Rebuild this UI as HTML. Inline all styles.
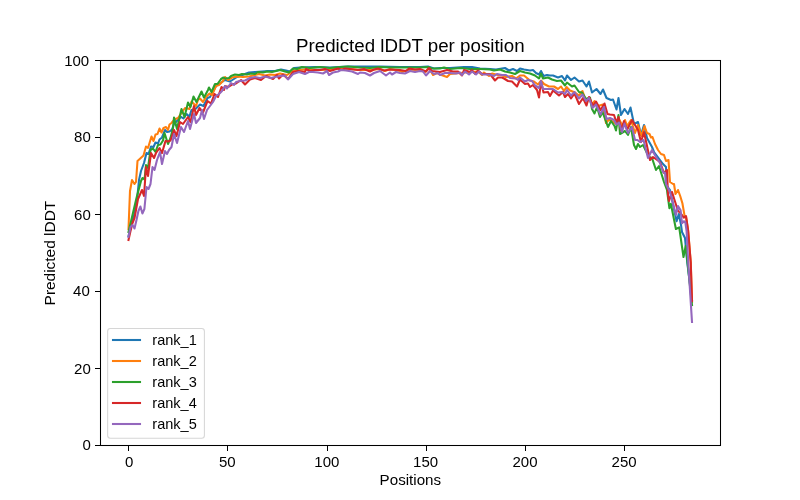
<!DOCTYPE html>
<html><head><meta charset="utf-8"><style>
html,body{margin:0;padding:0;background:#fff;width:800px;height:500px;overflow:hidden}
svg{display:block;will-change:transform}
text{font-family:"Liberation Sans",sans-serif;fill:#000}
</style></head><body>
<svg width="800" height="500" viewBox="0 0 800 500">
<rect x="0" y="0" width="800" height="500" fill="#fff"/>
<defs><clipPath id="ax"><rect x="100" y="60" width="621" height="386"/></clipPath></defs>
<g clip-path="url(#ax)">
<polyline points="128.50,236.00 134.50,213.50 137.00,200.00 139.00,180.00 141.00,171.00 144.00,163.00 146.50,153.00 148.50,154.00 151.00,146.50 153.50,147.00 155.50,142.50 158.00,143.50 159.50,139.50 162.00,137.50 165.00,130.00 167.00,132.00 169.50,131.50 172.00,129.50 174.00,124.00 181.00,116.80 183.50,118.50 186.60,114.00 189.40,116.80 191.50,110.00 196.00,108.50 200.00,104.50 203.50,106.00 207.50,98.00 210.00,97.00 216.00,86.00 225.00,80.00 230.00,81.50 237.00,77.00 249.00,72.50 255.00,72.00 262.00,71.50 268.00,71.00 275.00,71.00 281.00,69.50 286.00,70.50 290.00,71.50 294.00,68.00 300.00,67.50 315.00,67.00 330.00,67.50 348.00,66.50 360.00,66.50 380.00,66.50 400.00,67.00 420.00,67.00 428.00,66.50 434.00,68.50 440.00,68.00 450.00,68.00 464.00,67.00 472.00,67.00 480.00,68.50 490.00,69.00 496.00,69.50 505.00,68.00 509.00,70.50 513.00,69.00 517.00,71.00 520.00,68.50 524.00,69.50 530.00,70.50 533.00,70.00 536.00,73.00 539.00,74.50 541.00,71.00 543.50,76.00 547.00,75.00 550.00,75.50 553.00,75.50 558.00,77.50 562.00,76.00 565.00,80.50 567.00,75.50 571.00,80.00 574.50,77.50 579.00,81.50 582.50,80.50 586.50,86.50 589.00,81.50 592.00,92.50 596.50,89.00 600.50,94.00 603.00,89.50 606.50,98.00 611.00,100.00 613.00,99.50 616.50,109.50 618.50,98.00 621.00,115.00 624.50,109.00 628.00,114.00 630.50,107.50 634.00,124.00 638.00,122.00 641.00,135.00 644.00,125.00 647.00,138.00 652.00,147.00 654.00,152.00 657.00,156.00 660.00,160.00 663.00,164.00 666.00,167.00 667.00,186.00 670.00,190.00 676.60,221.20 678.80,214.00 681.00,224.80 682.00,232.00 685.00,238.00 687.20,262.00 692.00,300.00" fill="none" stroke="#1f77b4" stroke-width="2.08" stroke-linejoin="round" stroke-linecap="square"/>
<polyline points="128.50,229.00 130.00,191.00 132.00,180.00 134.50,184.00 136.00,182.00 137.50,161.00 143.50,155.50 146.00,146.50 148.00,148.00 151.50,136.50 153.50,141.00 155.50,134.50 157.50,134.00 159.50,128.50 161.50,132.50 163.50,128.00 166.00,127.00 168.00,130.00 169.50,124.50 171.50,123.00 174.00,120.00 175.50,119.00 178.00,118.00 181.50,113.00 185.00,108.00 189.50,109.00 191.50,101.50 196.00,106.00 198.00,100.00 200.00,98.50 203.00,102.00 206.00,97.00 209.50,93.50 212.00,95.00 216.00,86.00 219.00,85.00 223.00,81.00 225.00,77.00 228.00,80.00 232.00,77.50 237.00,76.50 243.00,77.00 249.00,76.50 253.00,75.50 259.00,74.00 265.00,75.50 270.00,74.50 275.00,75.00 280.00,73.50 287.00,75.00 293.00,71.00 299.00,70.00 305.00,69.50 310.00,69.50 320.00,70.00 330.00,69.50 340.00,68.50 350.00,69.00 360.00,70.00 370.00,70.00 380.00,69.00 385.00,71.00 390.00,69.00 400.00,71.00 402.00,72.00 410.00,69.50 420.00,70.00 425.00,72.00 429.00,68.00 433.00,75.00 437.00,73.00 440.00,74.50 447.00,77.00 450.00,74.00 460.00,73.00 470.00,72.00 478.00,71.50 482.00,75.00 484.00,72.50 489.00,76.00 492.00,73.50 498.00,75.00 502.00,75.00 506.00,77.00 512.00,76.00 516.00,78.50 520.00,75.50 524.00,75.50 530.00,80.50 534.00,81.50 538.00,84.50 541.00,80.50 544.00,84.00 549.00,86.50 554.00,86.50 558.00,89.00 561.00,86.50 564.00,91.00 566.50,87.00 570.00,90.50 575.00,92.50 579.00,95.50 582.50,91.00 586.00,101.00 590.00,99.00 592.00,104.50 594.50,101.00 598.00,106.00 603.00,104.50 606.00,123.00 609.00,119.50 612.00,121.00 616.00,124.00 619.00,119.00 623.00,127.00 625.00,120.00 627.00,126.00 631.00,120.00 635.00,133.00 638.00,125.00 641.50,136.00 644.50,126.00 647.00,133.00 649.50,134.00 651.00,137.50 652.50,137.00 655.00,144.00 658.00,150.00 661.00,154.00 664.00,155.00 666.00,161.00 668.50,160.00 670.00,182.00 673.00,184.00 674.00,184.00 675.50,194.00 678.00,190.00 680.20,196.00 682.40,203.20 684.50,215.40 686.00,217.00 688.20,231.00 690.80,263.00 692.00,302.00" fill="none" stroke="#ff7f0e" stroke-width="2.08" stroke-linejoin="round" stroke-linecap="square"/>
<polyline points="128.50,232.00 132.50,215.00 136.50,198.00 141.00,181.00 142.50,178.00 144.50,179.50 146.00,165.00 148.00,168.00 150.50,150.00 153.00,148.50 155.50,152.00 158.00,145.00 160.50,144.50 163.00,140.50 164.50,133.00 168.00,144.00 170.50,138.00 173.00,128.00 174.00,117.50 177.00,129.00 181.50,109.00 184.50,117.00 188.00,102.50 190.50,107.00 193.50,96.50 196.50,102.00 201.50,91.50 204.00,97.50 208.00,90.00 209.00,87.50 211.50,92.00 215.00,84.00 217.50,84.00 221.00,79.00 223.50,77.50 225.00,78.50 229.00,78.00 231.00,76.00 235.00,74.50 239.00,75.00 242.00,74.00 247.00,74.50 251.00,73.50 255.00,74.00 258.00,72.00 263.00,72.50 267.00,71.50 272.00,72.00 280.00,70.00 285.00,71.50 289.00,72.50 293.00,68.50 297.00,69.00 302.00,67.00 310.00,68.00 315.00,67.50 320.00,67.00 330.00,68.00 340.00,67.00 348.00,66.50 360.00,67.50 370.00,68.00 380.00,67.00 390.00,67.50 400.00,67.50 410.00,67.50 420.00,67.50 428.00,67.00 432.00,68.50 440.00,68.50 444.00,67.50 450.00,69.00 460.00,68.00 470.00,69.00 480.00,69.00 490.00,69.50 494.00,70.50 500.00,69.50 505.00,71.50 510.00,72.50 515.00,74.00 520.00,71.00 525.00,72.50 530.00,73.50 535.00,75.50 539.00,78.50 541.00,73.50 543.00,78.50 548.00,77.50 552.00,79.50 557.00,81.00 561.00,80.50 565.00,85.50 567.00,82.50 572.00,86.50 574.50,85.50 579.00,92.00 582.00,92.50 586.00,99.00 590.00,97.50 592.00,109.00 594.50,113.50 597.00,107.00 600.00,117.00 602.50,112.00 608.00,127.00 611.00,121.00 614.50,126.00 616.00,130.50 618.50,115.00 620.00,134.00 625.00,131.00 628.00,135.00 631.00,127.00 634.00,145.00 636.00,149.00 638.00,144.00 640.00,147.00 643.00,145.00 649.00,157.00 652.00,158.00 656.00,170.00 659.00,166.00 664.00,182.00 667.00,190.00 669.40,208.20 670.90,203.90 675.90,229.00 679.20,227.40 683.50,257.00 685.70,246.00 687.50,262.00 692.00,305.00" fill="none" stroke="#2ca02c" stroke-width="2.08" stroke-linejoin="round" stroke-linecap="square"/>
<polyline points="128.50,240.00 130.50,231.00 132.50,223.00 134.50,218.00 138.00,199.00 142.00,190.00 144.00,196.00 146.00,167.00 148.00,176.00 151.00,153.00 154.00,158.00 156.00,153.00 159.50,148.00 162.00,153.00 165.50,141.00 168.00,141.50 170.50,140.50 174.00,130.00 176.50,136.00 180.00,122.00 183.00,124.00 188.00,117.00 190.50,122.00 194.00,106.00 196.00,115.00 199.50,108.00 203.00,112.50 207.50,101.00 211.00,103.50 214.50,94.00 218.00,97.00 221.50,87.00 224.00,90.00 225.00,86.00 228.00,87.00 232.00,84.50 236.00,83.50 241.00,80.00 245.00,84.50 250.00,79.50 255.00,78.00 261.00,80.00 266.00,76.00 273.00,79.00 277.00,75.00 279.00,78.50 283.00,74.50 288.00,79.00 293.00,72.00 298.00,71.00 305.00,72.00 306.00,69.00 310.00,71.00 315.00,70.00 320.00,70.00 325.00,69.00 330.00,71.00 338.00,68.50 342.00,70.00 345.00,68.50 350.00,69.00 358.00,70.00 364.00,69.00 370.00,71.50 374.00,69.50 378.00,68.50 384.00,70.50 390.00,69.50 400.00,70.00 406.00,71.00 409.00,68.50 415.00,69.50 420.00,69.00 426.00,71.50 429.00,68.00 432.00,71.00 436.00,71.50 440.00,72.00 447.00,70.00 453.00,71.50 458.00,71.50 462.00,75.50 464.00,70.00 470.00,72.00 472.00,70.00 475.00,74.00 478.00,70.50 482.00,74.00 490.00,74.00 495.00,80.50 498.00,77.50 502.00,77.50 504.00,78.50 508.00,81.00 512.00,81.50 517.00,86.50 520.00,79.50 525.00,84.00 528.00,83.50 530.00,87.00 533.00,85.00 537.00,90.00 539.00,97.50 541.00,81.50 543.50,92.50 548.00,92.00 550.00,96.00 553.00,90.50 559.00,95.50 563.00,92.00 565.00,97.00 568.00,94.00 571.00,98.50 574.50,93.50 579.00,104.00 583.00,98.00 586.50,105.50 589.00,97.00 593.00,106.00 596.00,101.50 600.50,110.00 604.50,103.50 607.50,114.00 610.00,114.50 614.00,115.00 616.50,122.50 618.50,117.00 621.00,130.00 624.00,121.00 627.00,130.00 632.00,120.00 638.00,130.00 641.00,142.00 644.00,132.00 650.00,160.00 653.00,157.00 660.00,162.00 664.00,173.00 667.00,170.00 668.00,195.00 669.00,201.00 672.00,192.00 678.00,211.00 680.50,213.00 683.80,217.60 686.00,216.00 688.10,230.50 690.70,262.00 692.00,301.00" fill="none" stroke="#d62728" stroke-width="2.08" stroke-linejoin="round" stroke-linecap="square"/>
<polyline points="128.50,237.00 130.50,227.00 132.50,225.00 134.50,228.50 136.50,220.00 138.40,211.00 140.40,206.50 142.40,213.50 144.40,209.00 146.50,187.00 148.50,189.00 150.50,184.00 152.50,167.00 154.50,170.00 157.00,160.00 160.00,152.00 162.00,164.00 165.00,151.00 167.00,154.00 169.00,150.00 171.50,147.00 174.00,134.00 177.00,143.00 181.00,127.00 184.00,132.00 188.00,121.00 190.00,129.00 194.00,114.00 196.00,123.00 200.00,118.00 202.00,110.00 204.00,119.00 207.00,110.00 210.00,106.00 213.00,102.00 216.00,96.00 219.00,94.00 222.00,91.00 225.00,86.00 227.00,88.50 231.00,83.00 234.00,85.00 236.00,82.00 240.00,81.00 245.00,80.50 250.00,78.00 255.00,77.00 260.00,78.00 265.00,76.50 271.00,78.00 275.00,77.00 280.00,76.00 285.00,75.50 288.00,79.50 293.00,74.00 299.00,72.00 305.00,74.00 309.00,72.00 313.00,72.00 318.00,72.50 323.00,73.50 327.00,71.00 329.00,75.00 333.00,72.50 338.00,71.50 341.00,70.00 346.00,70.50 352.00,71.50 358.00,74.00 360.00,72.50 365.00,73.00 370.00,75.50 374.00,73.00 380.00,71.00 386.00,75.50 390.00,72.50 392.00,74.50 396.00,72.00 400.00,73.00 405.00,73.50 410.00,71.00 415.00,72.00 420.00,71.00 423.00,71.50 426.00,75.50 430.00,71.00 434.00,74.00 438.00,73.00 440.00,75.00 445.00,73.00 450.00,73.00 456.00,73.50 460.00,72.50 462.00,75.00 465.00,71.50 469.00,74.50 472.00,71.50 476.00,74.50 479.00,71.50 482.00,74.50 490.00,74.50 494.00,76.00 497.00,74.00 502.00,75.00 506.00,75.00 510.00,78.00 516.00,78.50 518.00,80.00 520.00,77.50 525.00,81.50 528.00,80.00 532.00,81.00 535.00,85.50 539.00,88.00 541.00,81.00 543.00,89.00 548.00,89.00 553.00,89.00 558.00,92.50 562.00,92.00 565.00,94.00 567.00,90.00 571.00,95.50 574.50,92.00 579.00,98.50 582.50,94.50 586.00,101.00 589.00,98.00 592.50,108.00 596.00,104.50 600.50,114.50 604.00,107.00 606.50,119.00 610.00,118.00 614.00,120.00 616.50,124.50 619.00,122.50 622.00,132.00 624.50,123.50 628.00,133.00 632.00,127.00 635.00,140.00 637.50,140.00 640.00,142.00 643.50,140.00 648.00,158.00 652.00,150.00 656.00,157.00 660.00,163.00 663.00,172.00 665.00,173.00 666.00,184.00 670.00,192.00 675.90,214.70 678.00,206.00 680.60,210.40 682.00,223.30 683.80,221.20 685.30,222.00 686.60,231.00 688.20,262.00 692.00,322.00" fill="none" stroke="#9467bd" stroke-width="2.08" stroke-linejoin="round" stroke-linecap="square"/>
</g>
<rect x="100.5" y="60.5" width="620" height="385" fill="none" stroke="#000" stroke-width="1.05"/>
<rect x="128" y="446" width="1" height="5" fill="#000"/>
<text transform="translate(129.25,466.52) scale(1.05,1)" text-anchor="middle" font-size="14.3">0</text>
<rect x="227" y="446" width="1" height="5" fill="#000"/>
<text transform="translate(227.35,466.52) scale(1.05,1)" text-anchor="middle" font-size="14.3">50</text>
<rect x="327" y="446" width="1" height="5" fill="#000"/>
<text transform="translate(326.90,466.52) scale(1.05,1)" text-anchor="middle" font-size="14.3">100</text>
<rect x="426" y="446" width="1" height="5" fill="#000"/>
<text transform="translate(425.65,466.52) scale(1.05,1)" text-anchor="middle" font-size="14.3">150</text>
<rect x="525" y="446" width="1" height="5" fill="#000"/>
<text transform="translate(524.98,466.52) scale(1.05,1)" text-anchor="middle" font-size="14.3">200</text>
<rect x="624" y="446" width="1" height="5" fill="#000"/>
<text transform="translate(624.10,466.52) scale(1.05,1)" text-anchor="middle" font-size="14.3">250</text>
<rect x="95" y="60" width="5" height="1" fill="#000"/>
<text transform="translate(89.20,66.12) scale(1.05,1)" text-anchor="end" font-size="14.3">100</text>
<rect x="95" y="137" width="5" height="1" fill="#000"/>
<text transform="translate(90.80,142.12) scale(1.05,1)" text-anchor="end" font-size="14.3">80</text>
<rect x="95" y="214" width="5" height="1" fill="#000"/>
<text transform="translate(90.80,220.02) scale(1.05,1)" text-anchor="end" font-size="14.3">60</text>
<rect x="95" y="291" width="5" height="1" fill="#000"/>
<text transform="translate(89.80,296.02) scale(1.05,1)" text-anchor="end" font-size="14.3">40</text>
<rect x="95" y="368" width="5" height="1" fill="#000"/>
<text transform="translate(90.80,374.02) scale(1.05,1)" text-anchor="end" font-size="14.3">20</text>
<rect x="95" y="445" width="5" height="1" fill="#000"/>
<text transform="translate(90.80,450.12) scale(1.05,1)" text-anchor="end" font-size="14.3">0</text>
<text x="296" y="51.6" font-size="17.5" textLength="228.6" lengthAdjust="spacingAndGlyphs">Predicted lDDT per position</text>
<text x="379.6" y="484.7" font-size="14.3" textLength="61.5" lengthAdjust="spacingAndGlyphs">Positions</text>
<text transform="translate(54.5,305.4) rotate(-90)" font-size="14.3" textLength="104.6" lengthAdjust="spacingAndGlyphs">Predicted lDDT</text>
<rect x="107.65" y="328.4" width="96.75" height="109.95" rx="2.8" fill="#fff" fill-opacity="0.8" stroke="#cccccc" stroke-opacity="0.8" stroke-width="1.05"/>
<line x1="113" y1="340" x2="140" y2="340" stroke="#1f77b4" stroke-width="2.08" stroke-linecap="square"/>
<text x="152.3" y="344.90" font-size="14.3" textLength="44.5" lengthAdjust="spacingAndGlyphs">rank_1</text>
<line x1="113" y1="361" x2="140" y2="361" stroke="#ff7f0e" stroke-width="2.08" stroke-linecap="square"/>
<text x="152.3" y="365.90" font-size="14.3" textLength="44.5" lengthAdjust="spacingAndGlyphs">rank_2</text>
<line x1="113" y1="382" x2="140" y2="382" stroke="#2ca02c" stroke-width="2.08" stroke-linecap="square"/>
<text x="152.3" y="386.90" font-size="14.3" textLength="44.5" lengthAdjust="spacingAndGlyphs">rank_3</text>
<line x1="113" y1="403" x2="140" y2="403" stroke="#d62728" stroke-width="2.08" stroke-linecap="square"/>
<text x="152.3" y="407.90" font-size="14.3" textLength="44.5" lengthAdjust="spacingAndGlyphs">rank_4</text>
<line x1="113" y1="424" x2="140" y2="424" stroke="#9467bd" stroke-width="2.08" stroke-linecap="square"/>
<text x="152.3" y="428.90" font-size="14.3" textLength="44.5" lengthAdjust="spacingAndGlyphs">rank_5</text>
</svg>
</body></html>
